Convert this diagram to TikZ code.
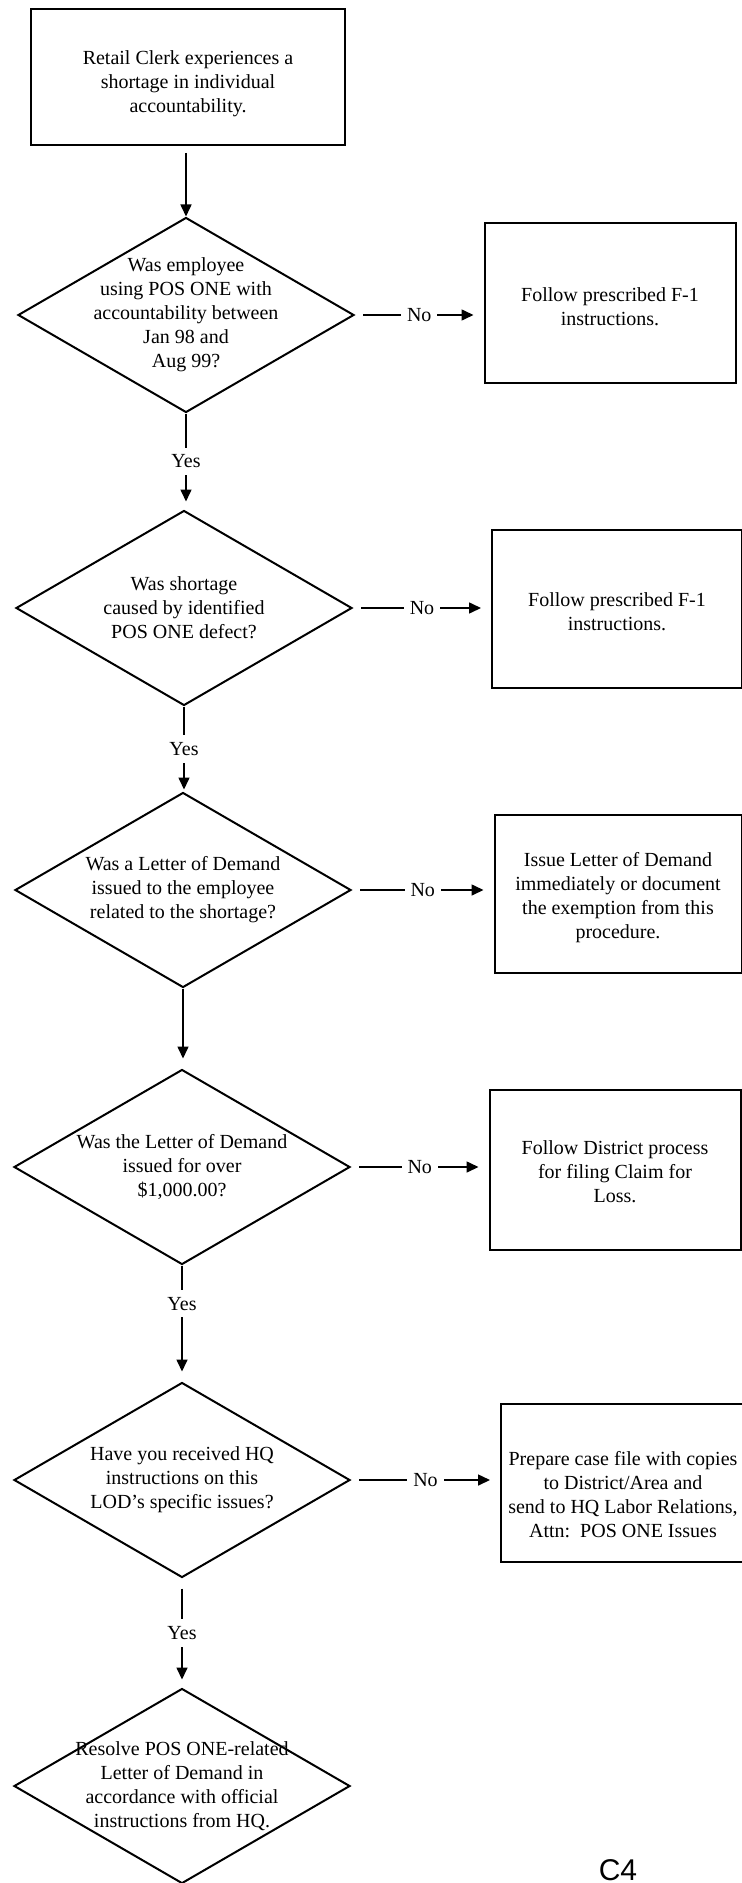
\documentclass[tikz,border=0pt]{standalone}
\usepackage{fontspec}
\setmainfont{Liberation Serif}
\newfontfamily\cfont{Liberation Sans}
\usetikzlibrary{shapes.geometric,arrows.meta}
\begin{document}
\begin{tikzpicture}[x=0.5pt,y=-0.5pt,
  font=\fontsize{10pt}{12pt}\selectfont,
  procbox/.style={draw,line width=1pt,inner sep=0pt},
  decision/.style={draw,line width=1pt,shape=diamond,inner sep=0pt,minimum width=168pt,minimum height=97.5pt},
  txt/.style={align=center,inner sep=0pt},
  flow/.style={line width=0.8pt,-{Triangle[length=6pt,width=5.5pt]}},
  lbl/.style={fill=white,inner xsep=3pt,inner ysep=3.5pt}]
\path[use as bounding box,fill=white] (0,0) rectangle (742,1883);

% start box
\node[procbox,minimum width=157pt,minimum height=68pt,
  label={[txt,yshift=-3.5pt]center:{Retail Clerk experiences a\\shortage in individual\\accountability.}}] (b0) at (188,77) {};

% decisions
\node[decision,label={[txt]center:{Was employee\\using POS ONE with\\accountability between\\Jan 98 and\\Aug 99?}}] (d1) at (186,315) {};
\node[decision,label={[txt]center:{Was shortage\\caused by identified\\POS ONE defect?}}] (d2) at (184,608) {};
\node[decision,label={[txt]center:{Was a Letter of Demand\\issued to the employee\\related to the shortage?}}] (d3) at (183,890) {};
\node[decision,label={[txt]center:{Was the Letter of Demand\\issued for over\\\$1,000.00?}}] (d4) at (182,1167) {};
\node[decision,label={[txt]center:{Have you received HQ\\instructions on this\\LOD's specific issues?}}] (d5) at (182,1480) {};
\node[decision,label={[txt]center:{Resolve POS ONE-related\\Letter of Demand in\\accordance with official\\instructions from HQ.}}] (d6) at (182,1786) {};

% right boxes
\node[procbox,minimum width=125.5pt,minimum height=80pt,
  label={[txt,yshift=-2pt]center:{Follow prescribed F-1\\instructions.}}] (b1) at (610,303) {};
\node[procbox,minimum width=125pt,minimum height=79pt,
  label={[txt,yshift=-1.5pt]center:{Follow prescribed F-1\\instructions.}}] (b2) at (617,609) {};
\node[procbox,minimum width=123.5pt,minimum height=79pt,
  label={[txt,yshift=-2pt]center:{Issue Letter of Demand\\immediately or document\\the exemption from this\\procedure.}}] (b3) at (618,894) {};
\node[procbox,minimum width=125.5pt,minimum height=80pt,
  label={[txt,yshift=-1pt]center:{Follow District process\\for filing Claim for\\Loss.}}] (b4) at (615,1170) {};
\node[procbox,minimum width=121pt,minimum height=79pt,
  label={[txt,yshift=-6pt,xshift=0.5pt]center:{Prepare case file with copies\\to District/Area and\\send to HQ Labor Relations,\\Attn:\ \ POS ONE Issues}}] (b5) at (622,1483) {};

% page mark
\node[font=\cfont\fontsize{15pt}{18pt}\selectfont,anchor=base,inner sep=0pt] (c4) at (618,1880) {C4};

% connectors
\draw[flow,shorten <=3.5pt] (d1.north |- b0.south) -- (d1.north);
\draw[flow,shorten >=4pt] (d1.south) -- node[lbl]{Yes} (d1.south |- d2.north);
\draw[flow,shorten >=1pt] (d2.south) -- node[lbl]{Yes} (d2.south |- d3.north);
\draw[flow,shorten >=5pt] (d3.south) -- (d3.south |- d4.north);
\draw[flow,shorten >=5pt] (d4.south) -- node[lbl,pos=0.33]{Yes} (d5.north);
\draw[flow,shorten <=5pt,shorten >=4pt] (d5.south) -- node[lbl]{Yes} (d6.north);

\draw[flow,shorten <=4pt,shorten >=5pt] (d1.east) -- node[lbl]{No} (d1.east -| b1.west);
\draw[flow,shorten <=4pt,shorten >=5pt] (d2.east) -- node[lbl]{No} (d2.east -| b2.west);
\draw[flow,shorten <=4pt,shorten >=5pt] (d3.east) -- node[lbl]{No} (d3.east -| b3.west);
\draw[flow,shorten <=4pt,shorten >=5pt] (d4.east) -- node[lbl]{No} (d4.east -| b4.west);
\draw[flow,shorten <=4pt,shorten >=5pt] (d5.east) -- node[lbl]{No} (d5.east -| b5.west);
\end{tikzpicture}
\end{document}
